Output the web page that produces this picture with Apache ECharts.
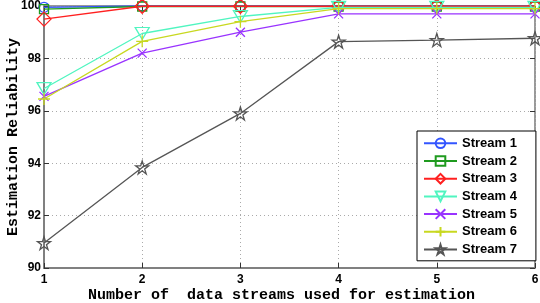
<!DOCTYPE html>
<html><head><meta charset="utf-8">
<script src="https://cdn.jsdelivr.net/npm/echarts@6/dist/echarts.min.js"></script>
<style>html,body{margin:0;padding:0;background:#fff}#c{width:540px;height:303px}</style>
</head><body><div id="c"></div>
<script>
const xValues = [1, 2, 3, 4, 5, 6];
const seriesNames = ['Stream 1','Stream 2','Stream 3','Stream 4','Stream 5','Stream 6','Stream 7'];
const stream1 = [99.95, 100, 100, 100, 100, 100];
const stream2 = [99.88, 99.98, 99.98, 99.98, 99.98, 99.98];
const stream3 = [99.5, 99.99, 99.99, 99.99, 99.99, 99.99];
const stream4 = [96.85, 98.95, 99.6, 99.95, 99.95, 99.95];
const stream5 = [96.55, 98.2, 99.0, 99.7, 99.7, 99.7];
const stream6 = [96.45, 98.65, 99.4, 99.9, 99.9, 99.9];
const stream7 = [90.95, 93.84, 95.9, 98.64, 98.7, 98.77];
const yTicks = [90, 92, 94, 96, 98, 100];

const colors = ['#3355ff','#1f9a1f','#ff2020','#50f5c0','#9933ff','#c8d820','#555555'];
const star = 'path://M10,0L12.245,6.91L19.51,6.91L13.633,11.18L15.878,18.09L10,13.82L4.122,18.09L6.367,11.18L0.49,6.91L7.755,6.91Z';
const symbols = ['circle','rect','diamond','path://M0,0L12,0L6,10Z','path://M0,0L10,10M10,0L0,10','path://M5,0L5,10M0,5L10,5',star];
const sizes = [10, 9, 14, [14,12], 9, 12, 13];
const allData = [stream1,stream2,stream3,stream4,stream5,stream6,stream7];

const series = allData.map((d,i)=>({
  name: seriesNames[i], type:'line', clip:false,
  data: d.map((v,j)=>[xValues[j], v]),
  symbol: symbols[i], symbolSize: sizes[i],
  lineStyle:{color:colors[i], width:1.3},
  itemStyle:{color:'none', borderColor:colors[i], borderWidth:1.3},
  emphasis:{disabled:true}, z: 2+i
}));

const chart = echarts.init(document.getElementById('c'));
const tickFont = {fontFamily:'Liberation Sans, Arial', fontWeight:'bold', fontSize:12, color:'#000'};
chart.setOption({
  animation:false,
  grid:{left:44, right:5, top:6, bottom:35, show:true, borderColor:'#333', borderWidth:1, containLabel:false, outerBoundsMode:'none'},
  legend:{
    orient:'vertical', left:417, top:131, data:seriesNames,
    backgroundColor:'#fff', borderColor:'#000', borderWidth:1,
    padding:[5, 19, 4, 6], itemGap:3.1, itemWidth:33, itemHeight:12,
    textStyle:{fontFamily:'Liberation Sans, Arial', fontWeight:'bold', fontSize:13, lineHeight:13, color:'#000'}
  },
  xAxis:[{
    type:'value', min:1, max:6, interval:1,
    name:'Number of  data streams used for estimation', nameLocation:'middle', nameGap:20, nameMoveOverlap:false,
    nameTextStyle:{fontFamily:'Liberation Mono, Courier New, monospace', fontWeight:'bold', fontSize:15, color:'#000', padding:[0,16,0,0]},
    axisLine:{show:true, lineStyle:{color:'#808080', width:2}},
    axisTick:{show:true, inside:true, length:5, lineStyle:{color:'#333'}},
    axisLabel:Object.assign({margin:6}, tickFont),
    splitLine:{show:true, lineStyle:{type:[1,3], color:'#aaa'}}
  },{
    type:'value', min:1, max:6, interval:1, position:'top',
    axisLine:{show:false}, axisLabel:{show:false}, splitLine:{show:false},
    axisTick:{show:true, inside:true, length:5, lineStyle:{color:'#333'}}
  }],
  yAxis:[{
    type:'value', min:90, max:100, interval:2,
    name:'Estimation Reliability', nameLocation:'middle', nameGap:23, nameMoveOverlap:false,
    nameTextStyle:{fontFamily:'Liberation Mono, Courier New, monospace', fontWeight:'bold', fontSize:15, color:'#000'},
    axisLine:{show:true, lineStyle:{color:'#808080', width:2}},
    axisTick:{show:true, inside:true, length:5, lineStyle:{color:'#333'}},
    axisLabel:Object.assign({margin:3, formatter:v=>yTicks.includes(v)?String(v):''}, tickFont),
    splitLine:{show:true, lineStyle:{type:[1,3], color:'#aaa'}}
  },{
    type:'value', min:90, max:100, interval:2, position:'right',
    axisLine:{show:false}, axisLabel:{show:false}, splitLine:{show:false},
    axisTick:{show:true, inside:true, length:5, lineStyle:{color:'#333'}}
  }],
  series: series
});
</script></body></html>
